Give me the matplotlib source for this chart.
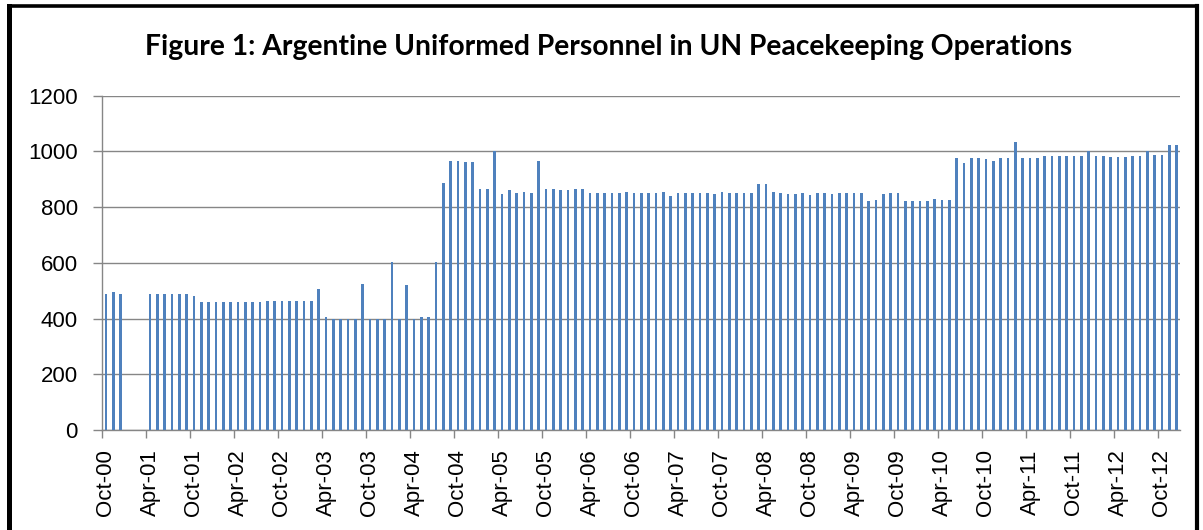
import numpy as np
import matplotlib
matplotlib.use("Agg")
import matplotlib.pyplot as plt
from matplotlib.lines import Line2D

# ---- data -------------------------------------------------------------
months = ["Jan", "Feb", "Mar", "Apr", "May", "Jun", "Jul", "Aug", "Sep", "Oct", "Nov", "Dec"]
start_year, start_month = 2000, 10   # Oct-00
n_months = 147                        # Oct-00 .. Dec-12

personnel = (
    [489, 494, 489, 0, 0, 0]
    + [489] * 6 + [481] + [459] * 9 + [464] * 7
    + [507, 405, 400, 400, 400, 400, 525, 400, 400, 400, 604, 400, 520, 400, 405, 405, 604]
    + [887, 966, 966, 962, 962, 865, 865, 1002, 847, 860, 852, 856, 852, 966,
       865, 865, 860, 860, 865, 865]
    + [852] * 5 + [856] + [852] * 4 + [856, 839] + [852] * 5 + [847, 856] + [852] * 4
    + [883, 883, 856, 852, 847, 847, 852, 842, 852, 852, 847] + [852] * 4
    + [821, 826, 847, 852, 852] + [821] * 4 + [829, 826, 826]
    + [975, 957, 975, 975, 971, 967, 975, 975, 1033, 975, 975, 975]
    + [984] * 6 + [1001, 984, 984] + [980] * 3 + [984, 984, 1000, 988, 988, 1024, 1024]
)

labels = []
for k in range(n_months):
    m = (start_month - 1 + k) % 12
    y = start_year + (start_month - 1 + k) // 12
    labels.append(f"{months[m]}-{y % 100:02d}")

yticks = [0, 200, 400, 600, 800, 1000, 1200]
title = "Figure 1: Argentine Uniformed Personnel in UN Peacekeeping Operations"

# ---- figure -----------------------------------------------------------
W, H, DPI = 1203, 530, 100
fig = plt.figure(figsize=(W / DPI, H / DPI), dpi=DPI)
fig.patch.set_facecolor("white")

ax = fig.add_axes([102.3 / W, 1 - 430 / H, (1180.3 - 102.3) / W, (430 - 95.7) / H])

x = np.arange(len(personnel))
ax.bar(x, personnel, width=0.4, color="#4F81BD", edgecolor="none", zorder=3)

ax.set_xlim(-0.5, len(personnel) - 0.5)
ax.set_ylim(0, 1200)

grid_col = "#868686"
ax.set_yticks(yticks)
ax.set_yticklabels([str(v) for v in yticks])
ax.yaxis.grid(True, color=grid_col, linewidth=1.0, zorder=0)
ax.set_axisbelow(True)

for s in ["top", "right"]:
    ax.spines[s].set_visible(False)
for s in ["left", "bottom"]:
    ax.spines[s].set_color(grid_col)
    ax.spines[s].set_linewidth(1.0)

# labels at category centres every 6 months, tick marks at category boundaries
lab_idx = list(range(0, len(personnel), 6))
ax.set_xticks(lab_idx)
ax.set_xticklabels([labels[i] for i in lab_idx], rotation=90)
ax.set_xticks([i - 0.5 for i in lab_idx], minor=True)
ax.tick_params(axis="x", which="major", length=0, pad=14, labelsize=16)
ax.tick_params(axis="x", which="minor", length=6, width=1.0, color=grid_col)
ax.tick_params(axis="y", length=6.5, width=1.0, color=grid_col, pad=11, labelsize=16)

for t in ax.get_xticklabels() + ax.get_yticklabels():
    t.set_fontfamily("Liberation Sans")

fig.text(0.5055, 1 - 47 / H, title, ha="center", va="center",
         fontsize=20.3, fontweight="bold", family="Lato")

# black frame (left, top, right)
fig.add_artist(Line2D([9.2 / W, 9.2 / W], [0, 1 - 5.7 / H], color="black", linewidth=3.6,
                      transform=fig.transFigure))
fig.add_artist(Line2D([9.2 / W, 1197 / W], [1 - 5.7 / H, 1 - 5.7 / H], color="black",
                      linewidth=2.6, transform=fig.transFigure, solid_capstyle="projecting"))
fig.add_artist(Line2D([1197 / W, 1197 / W], [0, 1 - 5.7 / H], color="black", linewidth=3.0,
                      transform=fig.transFigure))

fig.savefig("out.png", dpi=DPI, facecolor="white")
